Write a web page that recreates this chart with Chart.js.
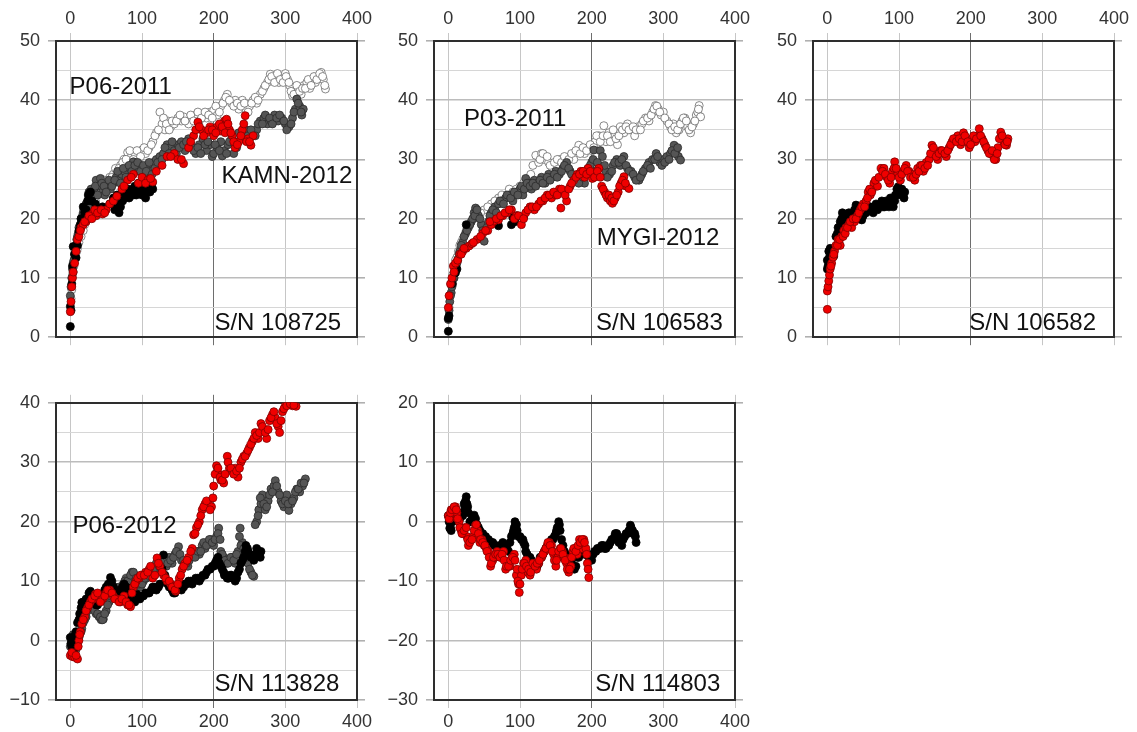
<!DOCTYPE html>
<html>
<head>
<meta charset="utf-8">
<script src="https://cdn.jsdelivr.net/npm/chart.js@4.4.1/dist/chart.umd.min.js"></script>
<style>
html, body { margin: 0; padding: 0; background: #fff; overflow: hidden; }
canvas { position: absolute; }
</style>
</head>
<body>
<canvas id="c1" width="381" height="356" style="left:0px;top:0px"></canvas>
<canvas id="c2" width="381" height="356" style="left:378px;top:0px"></canvas>
<canvas id="c3" width="381" height="356" style="left:757px;top:0px"></canvas>
<canvas id="c4" width="381" height="352" style="left:0px;top:384px"></canvas>
<canvas id="c5" width="381" height="352" style="left:378px;top:384px"></canvas>
<script>
"use strict"

// tick labels shared by all panels
const xTicks = [0, 100, 200, 300, 400]

// ---- S/N 108725 ----
const p1Black = [[0,1.8],[0,5.2],[1,4.5],[2,9],[3,12],[4,15.3],[6,14],[8,13.4],[10,15.5],[12,18],[15,20],[18,22],[22,21.5],[25,24],[27,24.3],[30,23],[35,22.5],[45,22],[55,22.5],[60,23.5],[62,21.5],[65,24],[68,21],[70,22],[72,24.5],[75,23.5],[78,24],[80,25],[82,23.5],[85,24.5],[88,24],[90,25.5],[92,24],[95,26],[98,25],[100,24],[103,25],[105,23.5],[108,24.5],[110,25.5],[112,26],[115,25],
  [14,19],[20,21],[24,23],[28,24.5],[64,22.5],[73,23],[77,25],[83,24],[87,25],[93,25],[97,24.5],[102,25.5],[107,25],[111,24.5],[114,26]]
const p1Red = [[0,4.3],[1,6],[2,8.5],[3,10],[4,11],[6,12.5],[8,14.5],[10,16.5],[12,17],[15,18.5],[18,19],[22,19.5],[25,20],[28,20.5],[32,21],[36,20.5],[40,21],[45,20.8],[50,21.5],[55,22.5],[60,23],[65,23.8],[72,25],[80,26.5],[88,27.5],[95,26],[100,27],[108,26.5],[115,26.2],[120,28],[128,29],[135,30.5],[145,31],[150,30],[158,29.3],[165,32],[172,34],[178,36.3],[183,35],[190,34.5],[195,35.5],[200,34],[205,35.5],[210,34.8],[215,36.5],[218,36.8],[222,35],[226,34],[230,32],[235,33],[240,35],[244,37.4],[248,33.5],[252,32.4],[255,34],
  [14,18],[20,19.5],[26,20.5],[30,20],[34,21.5],[38,21],[43,21.5],[48,21],[75,25.5],[85,27],[105,26],[112,26.8],[140,30.5],[155,30],[168,33],[175,35],[180,35.5],[186,34],[193,35],[198,35],[203,34.5],[208,36],[212,35.5],[216,34.5],[220,36],[224,34.5],[228,33],[233,32.5],[238,34],[242,36],[246,33],[250,33]]
const p1Gray = [[0,7],[1,8.5],[2,10],[3,11.5],[4,12.5],[6,14],[8,15.5],[10,17],[12,18.5],[15,20],[18,21],[20,22],[22,22.5],[25,23],[28,24],[30,23.5],[33,25],[36,26.5],[40,25.5],[42,26.8],[45,24.5],[48,24],[52,25.5],[56,25],[60,26],[64,27],[68,26.5],[72,27.5],[76,28],[80,27],[84,28.5],[88,29.6],[92,28],[96,29],[100,28.5],[104,27.5],[108,29],[112,28],[116,29.5],[120,30],[125,30.5],[130,31],[135,32.5],[140,32],[145,31.5],[150,32.5],[155,33],[160,31.5],[165,33.5],[170,32],[175,31],[180,32.5],[185,33.5],[190,31.5],[195,32.5],[198,30.5],[200,31],[205,32],[210,33],[212,30.6],[215,31.5],[220,32.5],[225,33.5],[228,31],[230,33],[235,34.5],[240,34],[245,35],[250,33.5],[255,34.5],[260,35],[265,36.5],[270,37],[275,36],[280,36.5],[285,37.5],[290,36.5],[295,37],[300,36],[305,35.5],[310,37],[314,38.5],[316,40.2],[320,39],[323,37.5],[325,38.5],
  [5,13],[7,15],[9,16.5],[11,17.5],[14,19],[17,20.5],[19,21.5],[24,22],[26,24.5],[29,25],[32,24],[35,25.5],[38,24],[44,26],[47,25.5],[50,24.5],[54,26.5],[58,25.5],[62,26.5],[66,28],[70,26],[74,28.5],[78,27],[82,29],[86,28],[90,29],[94,29.5],[98,28],[102,29],[106,28],[110,29.5],[114,27.5],[118,28.5],[122,29.5],[128,30],[132,32],[138,31],[142,33],[148,31],[152,32],[158,32.5],[162,33],[168,32.5],[172,31.5],[178,32],[182,31],[188,32.5],[192,33],[202,32.5],[208,31.5],[218,31],[222,33],[232,32],[238,33.5],[242,35],[248,34],[252,35],[258,34],[262,36],[268,36],[272,37.5],[278,37],[282,36],[288,37],[292,37.5],[298,36.5],[302,35],[308,36],[312,38],[318,39.5],[322,38]]
const p1White = [[1,6.5],[2,8],[3,10.5],[5,12],[7,13.5],[9,14.5],[12,16],[15,17],[20,19],[25,21],[30,22],[35,23],[40,24.5],[45,25.5],[50,26],[55,27],[60,27.5],[65,28],[70,29],[75,30],[80,31.2],[85,30.5],[90,31],[95,30],[100,31.6],[105,31],[110,32],[115,33],[120,34.5],[125,38],[128,36],[132,35],[136,36.5],[140,35.5],[145,36],[150,37],[155,36.5],[158,37.2],[165,36],[170,37],[175,37.5],[180,36.5],[185,37.5],[190,37],[195,38],[200,38.3],[205,37.5],[210,39],[215,40],[219,41],[225,39.5],[230,40],[235,38.5],[240,40],[245,38.5],[250,39],[255,40],[260,39.5],[265,41],[270,42],[275,43],[279,44.4],[283,43.5],[287,44],[291,43],[295,44],[300,44.5],[303,43.5],[306,42.5],[310,40.8],[314,41.5],[318,42],[322,41],[326,42.5],[330,43],[334,42],[338,43.5],[342,43],[346,44],[350,44.7],[353,43.5],[356,41.9],
  [4,11],[10,15],[18,18],[22,20],[28,21.5],[33,22.5],[38,24],[43,25],[48,26.5],[53,26.5],[58,27],[63,28.5],[68,28.5],[73,29.5],[78,30],[83,31.5],[88,30],[93,31.5],[98,30.5],[103,32],[108,31.5],[113,32.5],[118,34],[123,35],[130,37],[134,36],[138,35],[142,36.5],[148,36.5],[153,37.5],[160,36.5],[168,37.5],[172,36.5],[178,38],[183,37],[188,38],[193,37.5],[198,37],[203,39],[208,38],[213,39.5],[217,40.5],[222,40],[228,39],[233,39.5],[238,39],[243,39.5],[248,38],[253,39.5],[258,40.5],[262,40],[268,41.5],[272,42.5],[277,43.5],[281,44],[285,43],[289,44.5],[293,43.5],[297,43],[301,44],[305,43],[308,41.5],[312,41],[316,42.5],[320,41.5],[324,42],[328,42],[332,43.5],[336,42.5],[340,44],[344,43.5],[348,44.5],[352,44],[355,42.5]]

// ---- S/N 106583 ----
const p2Black = [[0,1],[0,3.2],[1,3.6],[5,9],[10,10.9],[12,11.5],[25,19],[70,18.8],[88,19],[90,20.2],[93,19.5],[96,20.5],[105,20.3]]
const p2Red = [[0,5],[1,7],[3,9],[5,10],[7,12],[10,12.5],[13,13],[16,14],[20,14.5],[25,15],[29,15.4],[33,15.8],[40,16.5],[48,17.5],[55,18],[60,19],[64,19.6],[70,19.8],[76,20.5],[82,21],[88,21.5],[95,20.5],[102,19],[108,21],[114,22],[120,21.5],[126,22.5],[132,23],[138,24],[144,23.5],[150,24],[155,25],[157,21.8],[161,24.6],[165,23],[170,25.5],[175,26.5],[180,27.5],[185,28],[190,27],[195,28.5],[201,26.8],[206,27.5],[210,28.5],[214,25.5],[218,24.5],[222,23.5],[226,23],[229,22.6],[233,23.5],[237,24.5],[241,26],[245,27.1],[248,25.5],[252,25.1],
  [8,11],[18,14],[22,15],[35,16],[45,17],[52,18],[58,19.5],[67,20],[73,20.5],[79,21],[85,21.5],[92,20],[98,20.5],[105,20],[111,21.5],[117,22],[123,22],[129,23],[135,23.5],[141,24],[147,24.5],[152,24],[158,25],[163,24],[168,25],[172,26],[178,27],[183,27.5],[188,28],[193,27.5],[198,28],[204,27],[208,28],[212,27],[216,25],[220,24],[224,24],[228,23.5],[231,23],[235,24],[239,25.5],[243,26.5],[247,26]]
const p2Gray = [[0,3],[1,4.5],[2,6],[4,7.5],[6,9],[8,10],[10,11.5],[13,13],[16,14.5],[20,16],[24,17.5],[28,18.5],[32,19.5],[36,21],[38,21.8],[42,20.5],[46,19],[50,16.2],[52,18],[56,19.5],[60,21],[65,22],[70,22.5],[75,23],[80,23.5],[85,24],[90,23],[95,24.5],[100,25],[104,24],[108,26.8],[112,26],[116,25],[120,26.5],[125,26],[130,27],[135,26],[140,27.5],[145,27],[150,28],[155,27.5],[160,28.5],[165,29.5],[170,28],[175,27],[180,26.5],[185,27.5],[190,26],[195,28.5],[200,29.5],[203,31.6],[205,28],[210,29],[212,31.5],[215,30.5],[220,28],[225,27.5],[230,29],[235,30],[240,29],[245,30.5],[250,28.5],[255,28],[260,27],[266,26.5],[270,27.5],[275,28.5],[280,29.5],[285,30],[290,31],[295,29.5],[300,30],[305,30.5],[310,31],[315,32.4],[318,31.5],[321,30.5],[324,29.9],
  [3,7],[5,8.5],[7,10],[9,11],[12,12.5],[15,14],[18,15.5],[22,17],[26,18],[30,19],[34,20],[37,20.5],[40,21.5],[44,20],[48,18],[54,18.5],[58,20.5],[62,21.5],[67,21],[72,23],[77,22.5],[82,24],[87,23.5],[92,24.5],[97,24],[102,25.5],[106,25],[110,26],[114,25.5],[118,26],[122,25.5],[128,26.5],[132,26],[138,27],[142,26.5],[148,27.5],[152,27],[158,28],[162,29],[168,28.5],[172,27.5],[178,27],[182,26],[188,27],[192,27.5],[198,29],[202,30],[208,29.5],[218,29],[222,27],[228,28],[232,29.5],[238,29.5],[242,30],[248,29],[252,28],[258,27.5],[262,26.5],[268,27],[272,28],[278,29],[282,28.5],[288,30],[292,30.5],[298,29],[302,29.5],[308,30],[312,31.5],[316,31],[320,32]]
const p2White = [[1,5],[2,7],[4,9],[6,10.5],[8,12],[12,13.5],[16,15.5],[20,16.5],[25,18],[30,19],[40,20.5],[50,21.5],[60,22.5],[70,23.5],[80,23.5],[85,25],[90,24.5],[100,25.5],[110,26.5],[118,29],[122,30.7],[126,29.5],[130,31],[134,30],[140,29.5],[145,28.5],[150,29],[155,30],[160,30],[165,29.5],[170,30.5],[175,30],[182,32.4],[186,31.5],[190,31],[195,32],[200,31.5],[205,33],[210,34],[214,33.5],[217,35.7],[220,33],[224,34.5],[228,33.5],[232,34],[236,32.5],[240,35.5],[245,34.5],[250,36],[255,35],[260,34],[265,35.5],[270,36],[275,37],[280,36.5],[285,38],[289,39.1],[293,38.5],[297,37.5],[300,38],[305,36.5],[310,35.5],[314,36],[318,34.5],[322,35],[326,36.5],[330,37],[334,35.5],[338,34.5],[342,36],[346,37.5],[348,38],[350,39.1],[352,37.2],
  [10,13],[14,14.5],[18,16],[22,17],[35,20],[45,21],[55,22],[65,23],[75,24],[95,25],[105,26],[115,27.5],[128,30],[132,31],[138,30.5],[142,29],[148,29.5],[152,30],[158,29.5],[162,30.5],[168,30],[172,31],[178,31.5],[184,31],[188,32],[193,31.5],[198,32.5],[203,32],[207,34],[212,33],[216,34],[222,34],[226,33],[230,35],[234,33.5],[238,34],[243,35],[248,35.5],[252,35],[258,35.5],[262,35],[268,35],[272,36.5],[278,37],[283,37.5],[287,38.5],[291,39],[295,38],[302,37],[308,36],[312,35],[316,35.5],[320,35],[324,36],[328,37],[332,36.5],[336,35],[340,35.5],[344,36.5],[349,38.5]]

// ---- S/N 106582 ----
const p3Black = [[0,11.5],[0,13],[2,14.5],[4,15],[7,14.2],[9,13.7],[12,17],[15,18.5],[18,19.5],[21,21],[24,20.5],[28,19.5],[32,20],[36,21],[40,22.3],[44,20],[48,19.8],[52,21],[56,21.5],[60,22],[64,21],[68,22.5],[72,22],[76,23],[80,22],[84,22.5],[88,23.5],[92,22],[95,24],[97,25],[99,25.4],[102,24.5],[105,24],[108,24.5],
  [1,12],[3,13.5],[5,14],[10,15],[14,17.5],[17,18.5],[20,20],[23,19.5],[26,20.5],[30,21],[34,20.5],[38,21.5],[42,21],[46,20.5],[50,20.5],[54,21],[58,22],[62,21.5],[66,22],[70,21.5],[74,22.5],[78,22],[82,23],[86,22],[90,23],[94,23],[98,24],[100,24.5],[104,25],[107,23.5]]
const p3Red = [[0,4.7],[0,7.8],[1,8.5],[2,9.5],[3,10.5],[4,11.5],[6,12.5],[8,13.5],[10,14.5],[12,15.5],[15,16.5],[18,15.5],[20,17],[23,18],[26,18.5],[30,19],[34,18.5],[38,19.5],[42,20.5],[46,21.5],[50,22.5],[54,23],[57,24.5],[60,24],[63,25],[65,26],[70,25.5],[75,28.5],[79,28.5],[83,27],[87,26],[91,28],[94,29.6],[98,27.5],[102,26.5],[106,28],[110,29],[114,28],[118,27.5],[122,26.5],[126,28.5],[130,29],[134,28],[138,29.5],[142,30],[146,32.4],[150,31],[154,30],[158,31.5],[162,31],[166,30.5],[170,32],[174,33],[178,33.5],[182,34],[186,32.5],[190,34.5],[194,33],[198,32],[202,33.5],[206,33],[210,34],[212,35.2],[216,33.5],[220,32.5],[224,31.5],[228,31],[232,30.5],[235,30],[238,32],[242,34.6],[246,33],[250,32.4],[252,33.5],
  [5,12],[9,14],[14,15.5],[17,16.5],[22,17],[25,17.5],[28,18.5],[32,19.5],[36,20],[40,20],[44,21],[48,22],[52,22],[56,23.5],[59,25],[62,24.5],[67,26.5],[72,27],[77,28],[81,27.5],[85,26.5],[89,27],[93,28.5],[96,28.5],[100,27],[104,27.5],[108,28.5],[112,28],[116,27],[120,27],[124,27.5],[128,28],[132,29],[136,28.5],[140,29],[144,31],[148,32],[152,30.5],[156,31],[160,31.5],[164,31],[168,31.5],[172,32.5],[176,33.5],[180,33],[184,33.5],[188,33],[192,34],[196,33],[200,32.5],[204,34],[208,33.5],[214,34],[218,33],[222,32],[226,31],[230,31.5],[233,30],[237,31],[240,33.5],[244,34],[248,32.5],[251,33]]

// ---- S/N 113828 ----
const p4Red = [[0,-2.5],[3,-2.7],[6,-2.8],[10,-3.1],[12,0],[14,1.5],[16,2.8],[20,4],[24,5.5],[28,6.5],[32,7],[35,7.8],[40,7.2],[45,7],[50,8],[55,8.5],[60,7.5],[65,7],[70,6.5],[75,7.5],[80,6],[84,5.7],[88,9],[92,10],[96,10.5],[100,11],[105,11.5],[110,12],[115,10.5],[121,13.9],[125,12.5],[130,11],[135,10],[140,9.5],[144,9],[147,8.3],[152,10.5],[156,12],[160,13],[165,14],[170,15.5],[172,17.8],[176,19],[180,20],[184,22],[188,23],[193,23],[197,22.5],[200,26],[204,29.4],[207,28],[210,27],[214,26.5],[219,31],[222,29],[226,28.5],[230,29],[234,27.5],[238,30],[242,31],[246,31.5],[250,32.5],[254,33.5],[258,35],[262,34],[266,36.5],[270,35.5],[274,34],[278,37],[282,38],[286,37.5],[290,36],[292,35],[296,38.5],[300,39.5],[305,40],[310,39.5],[315,39.4],
  [2,-2],[8,-2.5],[11,-1],[13,1],[18,3.5],[22,5],[26,6],[30,7],[34,7.5],[38,8],[42,6.5],[48,7.5],[52,8.5],[58,8],[62,7],[68,6.5],[72,7],[78,6.5],[82,6],[86,8],[90,9.5],[94,10.5],[98,11],[103,11],[108,11.5],[112,12.5],[118,11],[123,13],[128,11.5],[133,10.5],[138,10],[142,9],[146,8.5],[150,9.5],[154,11],[158,12.5],[163,13.5],[168,15],[174,18],[178,19.5],[182,21],[186,22.5],[190,23.5],[195,22],[199,24],[202,28],[206,29],[209,27.5],[212,27],[216,28],[220,30],[224,29],[228,28],[232,28.5],[236,29],[240,30.5],[244,31],[248,32],[252,33],[256,34],[260,34.5],[264,35],[268,36],[272,35],[276,35.5],[280,37.5],[284,38.5],[288,36.5],[294,37],[298,39],[302,39.5],[307,39.8],[312,39.6]]
const p4Gray = [[0,-1],[2,0.5],[5,0],[8,-1.5],[10,-1],[13,1],[16,2],[20,3.5],[24,5],[28,6],[32,5.5],[36,4.5],[40,4],[43,3.5],[46,3.6],[50,5],[54,6.5],[58,8.5],[62,9],[66,8],[70,8.5],[74,9.5],[78,10.5],[82,10],[86,11.5],[90,11],[94,10],[98,9],[102,10],[106,10.5],[110,11.5],[114,12],[118,12.5],[122,13],[126,12],[130,13],[134,12.5],[138,14],[142,13],[146,14.5],[151,15.8],[155,13.5],[160,13],[164,12.5],[168,14],[172,14.5],[176,15],[180,14.5],[184,16],[188,15.5],[192,16.5],[196,17],[200,16],[204,17.5],[207,18.9],[210,15],[214,14],[218,13],[222,13.5],[226,14],[230,13],[234,15],[237,18.9],[240,16.5],[244,15],[248,13],[252,11.5],[256,10.8],[260,20],[263,22],[266,23],[268,24.5],[272,22],[276,23.5],[280,25.5],[284,26],[286,26.9],[290,25],[294,23.5],[298,22.5],[302,24.5],[305,21.9],[308,23],[312,24],[316,25.5],[320,25],[324,26],[328,27.2],
  [1,-0.5],[4,1],[7,-1],[12,0.5],[15,1.5],[18,3],[22,4],[26,5.5],[30,6],[34,5],[38,4.5],[42,4],[45,3.5],[48,4.5],[52,6],[56,7.5],[60,8.5],[64,8.5],[68,9],[72,9],[76,10],[80,10],[84,11],[88,11.5],[92,10.5],[96,9.5],[100,9.5],[104,10.5],[108,11],[112,12],[116,12],[120,13],[124,12.5],[128,12.5],[132,13.5],[136,13],[140,13.5],[144,14],[148,15],[153,14.5],[158,13.5],[162,13],[166,13.5],[170,14.5],[174,14],[178,15],[182,15],[186,16.5],[190,16],[194,17],[198,16.5],[202,17],[206,18],[209,17],[212,14.5],[216,13.5],[220,13],[224,14],[228,13.5],[232,14.5],[236,17.5],[238,16],[242,15.5],[246,14],[250,12],[254,11],[258,19.5],[262,21],[265,24],[270,23],[274,22.5],[278,24.5],[282,25],[288,26],[292,24.5],[296,23],[300,23.5],[304,23],[310,23.5],[314,25],[318,25.5],[322,26.5],[326,26.5]]
const p4Black = [[0,0.5],[2,-1],[5,-1.5],[8,1.5],[10,3],[13,4.5],[16,6.4],[20,6],[24,7],[28,8.3],[32,7],[36,6],[40,6.5],[45,7.5],[50,9],[56,10.6],[60,9],[65,8],[70,8.5],[75,9.5],[80,8.5],[85,7.5],[90,6.5],[93,7.8],[97,7],[100,7.5],[105,8],[110,8],[115,9],[120,8.5],[125,9.5],[130,14.4],[134,10],[138,9],[142,8.5],[146,8],[150,9],[155,8.5],[160,9.5],[165,10],[170,9.5],[175,10.5],[180,10],[185,11],[190,11.5],[195,12],[200,12.5],[204,13.5],[208,13],[212,12],[215,11],[219,10.5],[223,11],[227,10.5],[230,10],[234,11.5],[238,13],[242,14],[245,16],[248,15],[252,14],[256,13.5],[260,15.5],[263,14.5],[266,15],
  [1,-0.5],[4,0],[7,1],[12,3.5],[15,5.5],[18,6.5],[22,7],[26,8],[30,7.5],[34,6.5],[38,6],[43,7],[48,8.5],[53,9.5],[58,10],[62,8.5],[68,8],[73,9],[78,9],[83,8],[88,7],[95,7.5],[102,7.5],[108,8],[113,8.5],[118,9],[123,9],[128,12],[132,11],[136,9.5],[140,9],[144,8],[148,8.5],[152,9],[158,9],[162,9.5],[168,10],[172,10],[178,10.5],[182,10.5],[188,11],[192,12],[198,12.5],[202,13],[206,14],[210,12.5],[214,11.5],[217,11],[221,10.5],[225,11],[229,10.5],[232,10.5],[236,12],[240,13.5],[244,15],[247,15.5],[250,14.5],[254,14],[258,14.5],[262,15],[265,14]]

// ---- S/N 114803 ----
const p5Black = [[0,1],[2,-1.1],[4,-1.5],[6,0],[8,1],[12,1.5],[16,0.5],[20,1],[23,2.5],[25,4.2],[27,2.5],[30,0],[33,0.5],[36,1.1],[40,-0.5],[44,-1.5],[48,-2],[52,-2.5],[56,-3],[60,-3.5],[64,-4],[68,-4.5],[72,-4],[76,-3.5],[80,-4],[84,-5],[88,-2.5],[91,-1.5],[93,0],[95,-0.5],[98,-2.5],[102,-3],[105,-3.5],[108,-5],[112,-6],[116,-6.5],[120,-7],[124,-7.5],[128,-6],[132,-5.5],[136,-4.5],[140,-4],[144,-3],[148,-2.5],[151,-1.5],[154,0],[156,-1.5],[160,-4],[164,-5.5],[168,-6.5],[172,-7],[176,-8],[180,-6],[184,-5.5],[188,-5],[192,-5.5],[196,-6],[200,-6.5],[204,-5],[208,-4.5],[212,-4.5],[216,-4],[220,-4.5],[224,-4],[228,-3],[232,-2.5],[235,-2],[238,-3.5],[242,-4],[246,-2.5],[250,-2],[254,-0.6],[257,-1.5],[260,-2],[262,-3.5],
  [1,0],[3,-1],[5,0.5],[10,1.5],[14,1],[18,1.5],[22,3],[24,3.5],[26,3],[28,1.5],[32,0],[35,0.5],[38,0.5],[42,-1],[46,-2],[50,-2.5],[54,-3],[58,-3.5],[62,-3.5],[66,-4],[70,-4.5],[74,-4],[78,-4],[82,-4.5],[86,-3.5],[90,-2],[92,-1],[94,-0.5],[96,-1.5],[100,-2.5],[104,-3],[107,-4],[110,-5.5],[114,-6],[118,-7],[122,-7],[126,-7],[130,-6],[134,-5],[138,-4.5],[142,-3.5],[146,-3],[150,-2],[152,-1],[155,-0.5],[158,-3],[162,-5],[166,-6],[170,-7],[174,-7.5],[178,-7.5],[182,-6],[186,-5],[190,-5.5],[194,-5.5],[198,-6],[202,-5.5],[206,-5],[210,-4.5],[214,-4],[218,-4.5],[222,-4],[226,-3.5],[230,-3],[233,-2],[236,-2.5],[240,-3.5],[244,-3],[248,-2],[252,-1.5],[255,-1],[258,-2],[261,-2.5]]
const p5Red = [[0,1],[2,0.5],[4,2],[7,1.5],[10,2.5],[12,1.5],[15,0],[18,-1.5],[20,-2],[23,-1],[26,-2.5],[28,-4],[32,-3],[35,-2.5],[38,-0.6],[41,-1.5],[44,-3.5],[47,-3],[50,-4],[53,-4.5],[56,-5],[59,-7.5],[62,-6.5],[65,-6],[68,-5],[71,-5.5],[74,-6],[77,-5],[80,-8],[83,-7],[86,-7.5],[89,-6],[92,-5.5],[95,-9],[98,-10.5],[99,-11.9],[102,-9],[105,-7],[108,-6.5],[111,-8.5],[114,-9],[117,-7.5],[120,-7],[123,-8],[126,-7],[130,-6],[134,-5],[138,-4],[141,-3.5],[144,-4],[147,-5.5],[150,-7.5],[153,-6],[156,-4.5],[159,-5],[162,-6],[165,-7],[168,-8.5],[171,-7.5],[174,-5],[177,-4.5],[180,-5.5],[183,-3],[186,-4.5],[189,-3],[192,-4.5],[194,-7],[195,-8],[196,-9.4],
  [1,0.5],[3,1.5],[5,2],[8,2.5],[11,2],[13,0.5],[16,-1],[19,-2],[22,-1.5],[25,-1],[27,-3],[30,-3.5],[33,-3],[36,-1.5],[39,-0.5],[42,-2],[45,-3],[48,-3.5],[51,-4],[54,-5],[57,-6],[60,-7],[63,-6],[66,-5.5],[69,-5.5],[72,-6],[75,-5.5],[78,-6.5],[81,-7.5],[84,-7.5],[87,-6.5],[90,-6],[93,-6.5],[96,-8],[97,-10],[100,-10.5],[103,-8],[106,-7],[109,-7.5],[112,-8],[115,-8.5],[118,-7],[121,-7.5],[124,-7],[127,-6.5],[132,-5.5],[136,-4.5],[139,-3.5],[142,-4],[145,-5],[148,-6.5],[151,-6.5],[154,-5],[157,-4.5],[160,-5.5],[163,-6.5],[166,-8],[169,-8],[172,-6],[175,-4.5],[178,-5],[181,-4],[184,-3.5],[187,-3],[190,-3.5],[193,-5.5]]

const STYLE = {
  red: { bg: '#f00000', border: '#800000' },
  black: { bg: '#000000', border: '#000000' },
  gray: { bg: '#555555', border: '#2b2b2b' },
  white: { bg: '#ffffff', border: '#6a6a6a' }
}

const FONT = '"Liberation Sans", Arial, Helvetica, sans-serif'

const notesPlugin = {
  id: 'notes',
  afterDatasetsDraw(chart, args, opts) {
    const { ctx, scales } = chart
    ctx.save()
    ctx.font = '24px ' + FONT
    ctx.fillStyle = '#111'
    ctx.textBaseline = 'middle'
    ctx.textAlign = 'left'
    for (const n of opts.items) {
      ctx.fillText(n.text, scales.x.getPixelForValue(n.x), scales.y.getPixelForValue(n.y))
    }
    ctx.restore()
  }
}

function toPts(arr) {
  return arr.map(p => ({ x: p[0], y: p[1] }))
}

function minus(v) {
  return v < 0 ? '\u2212' + Math.abs(v) : String(v)
}

function makePanel(id, topRow, yMin, yMax, series, notes) {
  const datasets = series.map(s => ({
    data: toPts(s.data),
    backgroundColor: STYLE[s.style].bg,
    borderColor: STYLE[s.style].border,
    borderWidth: 0.8,
    pointRadius: 4,
    xAxisID: 'x',
    yAxisID: 'y'
  }))

  let yTicks = []
  for (let v = yMin; v <= yMax; v += 5) yTicks.push(v)

  const border = { display: true, color: '#2e2e2e', width: 2 }
  const xGrid = {
    color: c => c.tick && c.tick.value === 200 ? '#6e6e6e' : '#c6c6c6',
    lineWidth: 1,
    tickLength: 8
  }

  return new Chart(document.getElementById(id), {
    type: 'scatter',
    data: { datasets: datasets },
    plugins: [notesPlugin],
    options: {
      responsive: false,
      animation: false,
      devicePixelRatio: 1,
      layout: { padding: 0 },
      plugins: {
        legend: { display: false },
        tooltip: { enabled: false },
        notes: { items: notes }
      },
      scales: {
        x: {
          type: 'linear',
          position: topRow ? 'top' : 'bottom',
          min: -20,
          max: 400,
          afterBuildTicks: sc => { sc.ticks = xTicks.map(v => ({ value: v })) },
          afterFit: sc => { sc.height = topRow ? 41 : 36 },
          ticks: { color: '#333', font: { family: FONT, size: 18 }, padding: 3, maxRotation: 0 },
          grid: xGrid,
          border: border
        },
        x2: {
          type: 'linear',
          position: topRow ? 'bottom' : 'top',
          min: -20,
          max: 400,
          afterBuildTicks: sc => { sc.ticks = xTicks.map(v => ({ value: v })) },
          afterFit: sc => { sc.height = 16 },
          ticks: { display: false },
          grid: { drawOnChartArea: false, color: xGrid.color, tickLength: 8 },
          border: border
        },
        y: {
          type: 'linear',
          position: 'left',
          min: yMin,
          max: yMax,
          afterBuildTicks: sc => { sc.ticks = yTicks.map(v => ({ value: v })) },
          afterFit: sc => { sc.width = 56 },
          ticks: {
            color: '#333',
            font: { family: FONT, size: 18 },
            padding: 8,
            callback: v => v % 10 === 0 ? minus(v) : ''
          },
          grid: {
            color: c => c.tick && c.tick.value % 10 === 0 ? '#bcbcbc' : '#d6d6d6',
            lineWidth: c => c.tick && c.tick.value % 10 === 0 ? 1.6 : 1.1,
            tickColor: c => c.tick && c.tick.value % 10 === 0 ? '#b0b0b0' : 'rgba(0,0,0,0)',
            tickLength: 8
          },
          border: border
        },
        y2: {
          type: 'linear',
          position: 'right',
          min: yMin,
          max: yMax,
          afterBuildTicks: sc => { sc.ticks = yTicks.map(v => ({ value: v })) },
          afterFit: sc => { sc.width = 24 },
          ticks: { display: false },
          grid: {
            drawOnChartArea: false,
            lineWidth: 1.6,
            tickColor: c => c.tick && c.tick.value % 10 === 0 ? '#b0b0b0' : 'rgba(0,0,0,0)',
            tickLength: 8
          },
          border: border
        }
      }
    }
  })
}

makePanel('c1', true, 0, 50, [
  { data: p1Red, style: 'red' },
  { data: p1Black, style: 'black' },
  { data: p1Gray, style: 'gray' },
  { data: p1White, style: 'white' }
], [
  { text: 'P06-2011', x: -1, y: 42.2 },
  { text: 'KAMN-2012', x: 211, y: 27.2 },
  { text: 'S/N 108725', x: 201, y: 2.3 }
])

makePanel('c2', true, 0, 50, [
  { data: p2Red, style: 'red' },
  { data: p2Black, style: 'black' },
  { data: p2Gray, style: 'gray' },
  { data: p2White, style: 'white' }
], [
  { text: 'P03-2011', x: 22, y: 36.7 },
  { text: 'MYGI-2012', x: 207, y: 16.7 },
  { text: 'S/N 106583', x: 206, y: 2.3 }
])

makePanel('c3', true, 0, 50, [
  { data: p3Red, style: 'red' },
  { data: p3Black, style: 'black' }
], [
  { text: 'S/N 106582', x: 198, y: 2.3 }
])

makePanel('c4', false, -10, 40, [
  { data: p4Red, style: 'red' },
  { data: p4Black, style: 'black' },
  { data: p4Gray, style: 'gray' }
], [
  { text: 'P06-2012', x: 3, y: 19.2 },
  { text: 'S/N 113828', x: 201, y: -7.3 }
])

makePanel('c5', false, -30, 20, [
  { data: p5Red, style: 'red' },
  { data: p5Black, style: 'black' }
], [
  { text: 'S/N 114803', x: 205, y: -27.3 }
])
</script>
</body>
</html>
